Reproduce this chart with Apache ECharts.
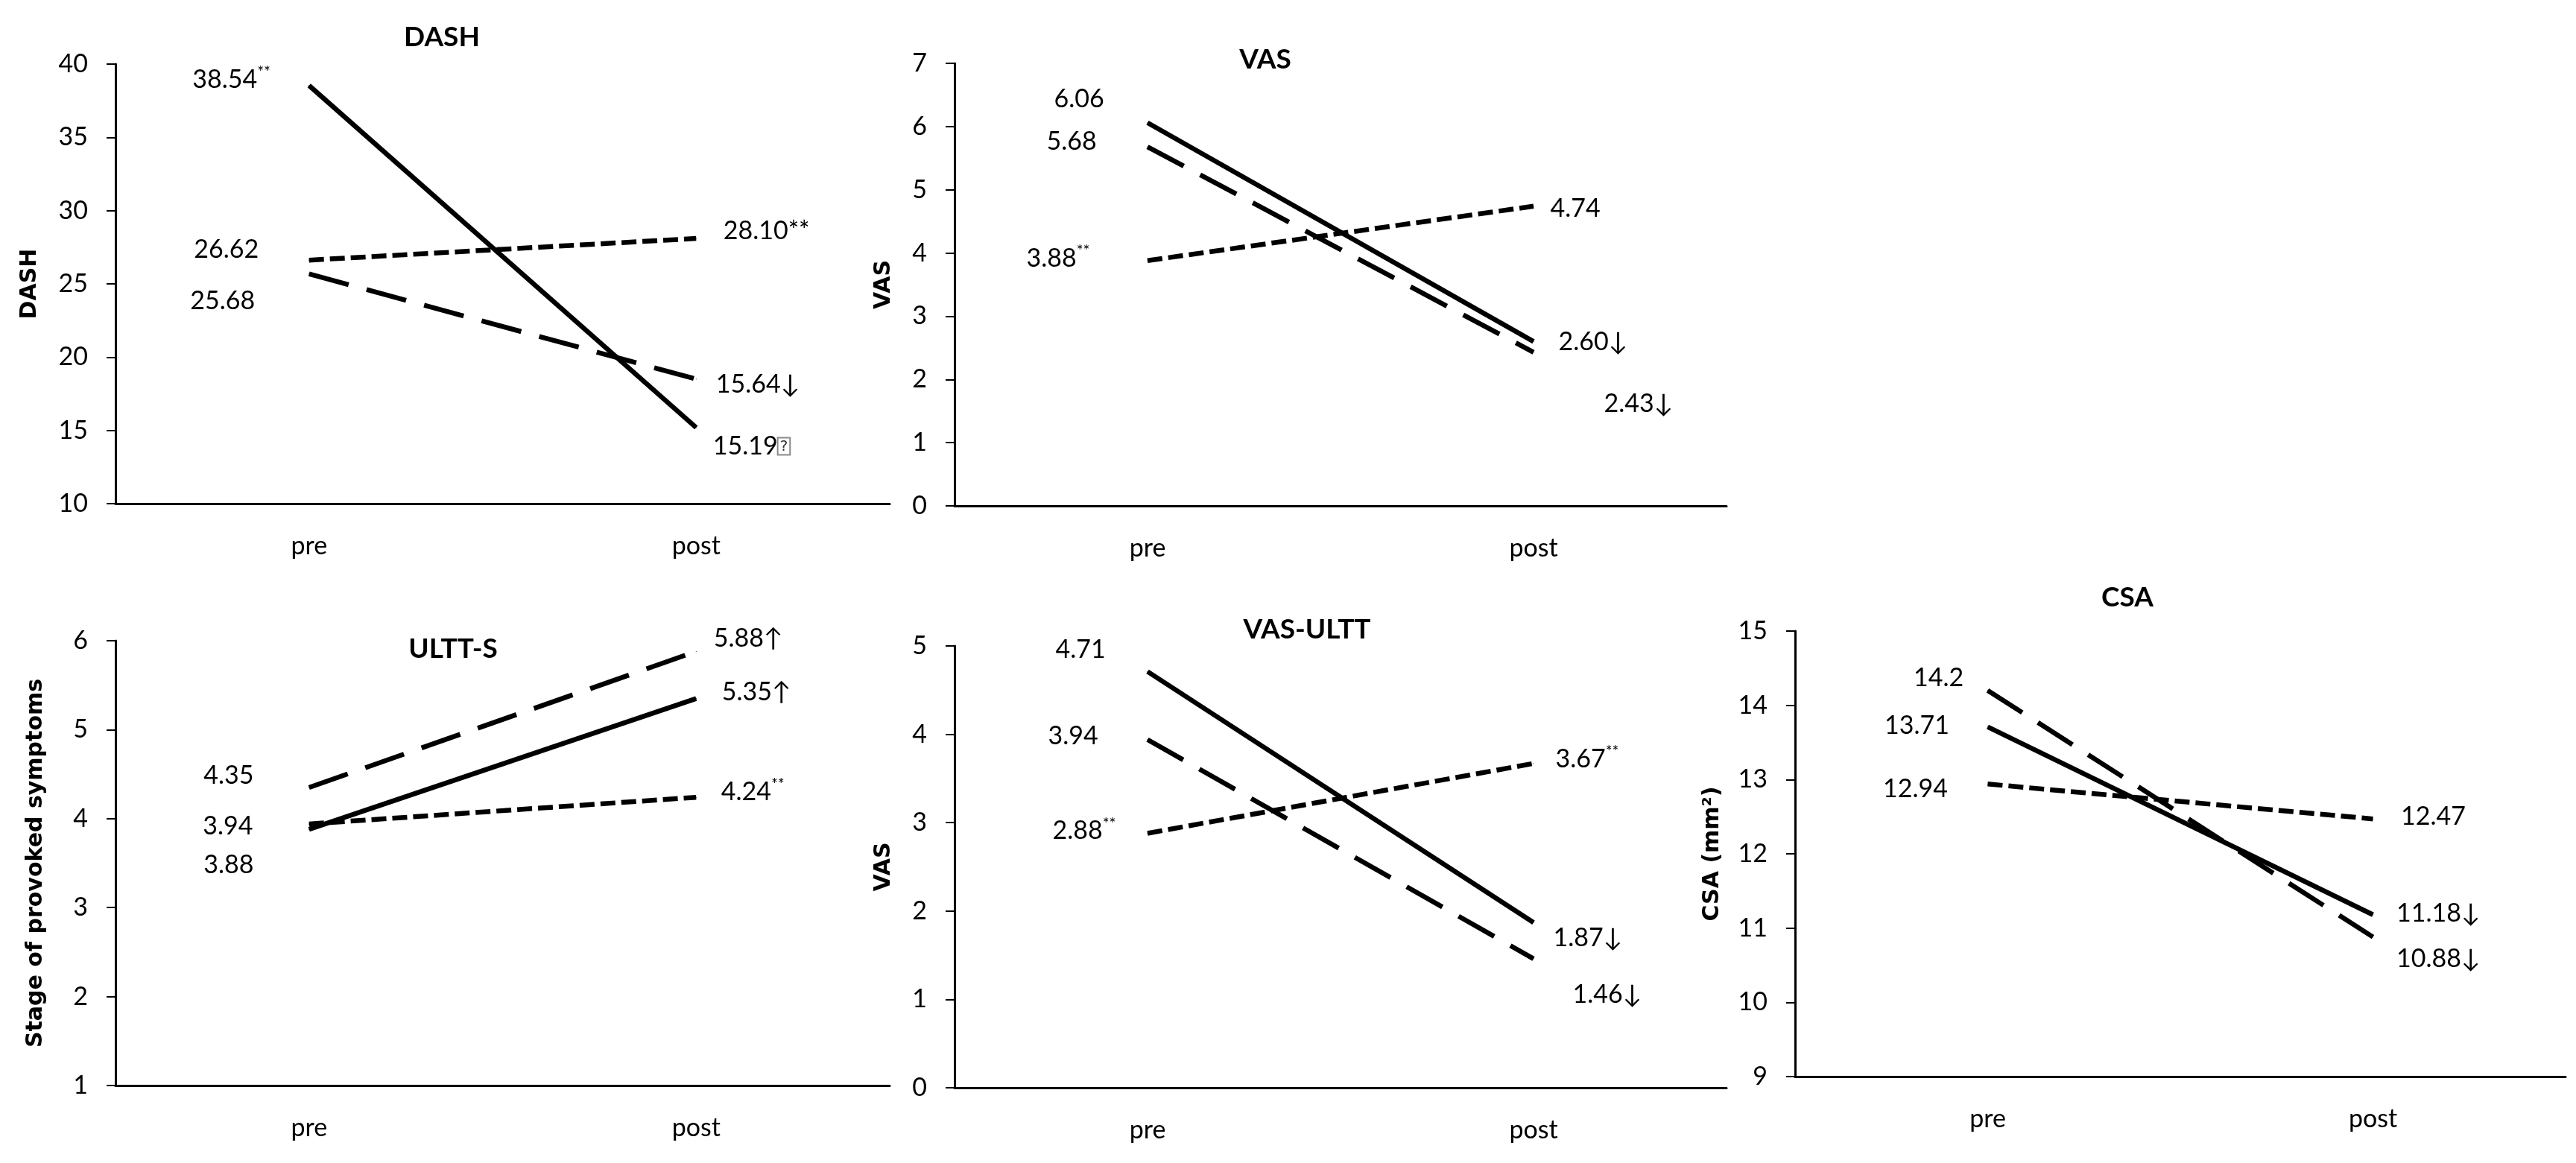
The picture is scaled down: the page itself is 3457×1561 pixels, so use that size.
<!DOCTYPE html>
<html>
<head>
<meta charset="utf-8">
<title>Pre / post outcomes</title>
<script src="https://cdn.jsdelivr.net/npm/echarts@6/dist/echarts.min.js"></script>
<style>
  html, body { margin: 0; padding: 0; background: #fff; }
  #chart { width: 3457px; height: 1561px; }
</style>
</head>
<body>
<div id="chart"></div>
<script>
const categories = ['pre', 'post'];

// DASH
const dashSolid = [38.54, 15.19];
const dashLong = [25.68, 18.5];
const dashShort = [26.62, 28.10];
const dashSolidLabels = ['38.54^**', '15.19[?]'];
const dashLongLabels = ['25.68', '15.64↓'];
const dashShortLabels = ['26.62', '28.10**'];

// VAS
const vasSolid = [6.06, 2.60];
const vasLong = [5.68, 2.43];
const vasShort = [3.88, 4.74];
const vasSolidLabels = ['6.06', '2.60↓'];
const vasLongLabels = ['5.68', '2.43↓'];
const vasShortLabels = ['3.88^**', '4.74'];

// ULTT-S
const ulttSolid = [3.88, 5.35];
const ulttLong = [4.35, 5.88];
const ulttShort = [3.94, 4.24];
const ulttSolidLabels = ['3.88', '5.35↑'];
const ulttLongLabels = ['4.35', '5.88↑'];
const ulttShortLabels = ['3.94', '4.24^**'];

// VAS-ULTT
const vasUlttSolid = [4.71, 1.87];
const vasUlttLong = [3.94, 1.46];
const vasUlttShort = [2.88, 3.67];
const vasUlttSolidLabels = ['4.71', '1.87↓'];
const vasUlttLongLabels = ['3.94', '1.46↓'];
const vasUlttShortLabels = ['2.88^**', '3.67^**'];

// CSA
const csaSolid = [13.71, 11.18];
const csaLong = [14.2, 10.88];
const csaShort = [12.94, 12.47];
const csaSolidLabels = ['13.71', '11.18↓'];
const csaLongLabels = ['14.2', '10.88↓'];
const csaShortLabels = ['12.94', '12.47'];

const NUM_FONT = 'Lato, "Open Sans", sans-serif';
const NAME_FONT = '"DejaVu Sans", Verdana, sans-serif';
const NUM_SIZE = 34;

// 线型：实线 / 长虚线 / 短虚线
const lineTypes = {
  solid: 'solid',
  long: [55, 25],
  short: [20, 8]
};

// 每个小图的布局（位置、刻度、标签偏移）
const panels = [
  {
    title: 'DASH', yName: 'DASH', min: 10, max: 40, step: 5,
    grid: { left: 155, top: 86, width: 1039, height: 590 },
    titleAt: [593, 50], nameGap: 100,
    data: {
      solid: [dashSolid, dashSolidLabels],
      long: [dashLong, dashLongLabels],
      short: [dashShort, dashShortLabels]
    },
    offsets: {
      solid: [[-157, -8], [22, 25]],
      long: [[-160, 36], [26, 7]],
      short: [[-155, -14], [36, -10]]
    }
  },
  {
    title: 'VAS', yName: 'VAS', min: 0, max: 7, step: 1,
    grid: { left: 1281, top: 85, width: 1036, height: 594 },
    titleAt: [1698, 80], nameGap: 80,
    data: {
      solid: [vasSolid, vasSolidLabels],
      long: [vasLong, vasLongLabels],
      short: [vasShort, vasShortLabels]
    },
    offsets: {
      solid: [[-126, -32], [33, 1]],
      long: [[-136, -7], [94, 69]],
      short: [[-163, -3], [22, 3]]
    }
  },
  {
    title: 'ULTT-S', yName: 'Stage of provoked symptoms', min: 1, max: 6, step: 1,
    grid: { left: 155, top: 860, width: 1039, height: 597 },
    titleAt: [608, 871], nameGap: 92,
    data: {
      solid: [ulttSolid, ulttSolidLabels],
      long: [ulttLong, ulttLongLabels],
      short: [ulttShort, ulttShortLabels]
    },
    offsets: {
      solid: [[-142, 48], [34, -9]],
      long: [[-142, -16], [23, -17]],
      short: [[-143, 3], [33, -7]]
    }
  },
  {
    title: 'VAS-ULTT', yName: 'VAS', min: 0, max: 5, step: 1,
    grid: { left: 1281, top: 867, width: 1036, height: 593 },
    titleAt: [1754, 845], nameGap: 80,
    data: {
      solid: [vasUlttSolid, vasUlttSolidLabels],
      long: [vasUlttLong, vasUlttLongLabels],
      short: [vasUlttShort, vasUlttShortLabels]
    },
    offsets: {
      solid: [[-124, -29], [26, 21]],
      long: [[-134, -5], [52, 48]],
      short: [[-128, -3], [29, -6]]
    }
  },
  {
    title: 'CSA', yName: 'CSA (mm²)', min: 9, max: 15, step: 1,
    grid: { left: 2409, top: 847, width: 1034, height: 598 },
    titleAt: [2855, 802], nameGap: 96,
    data: {
      solid: [csaSolid, csaSolidLabels],
      long: [csaLong, csaLongLabels],
      short: [csaShort, csaShortLabels]
    },
    offsets: {
      solid: [[-139, -2], [31, -2]],
      long: [[-100, -17], [31, 29]],
      short: [[-141, 7], [37, -3]]
    }
  }
];

// '^**' 表示上标星号，'[?]' 表示带框问号
function toRich(s) {
  return s.replace('^**', '{s|**}').replace('[?]', '{q|?}');
}

const richStyles = {
  s: { fontSize: 21, fontFamily: NUM_FONT, color: '#000', verticalAlign: 'top', lineHeight: 21 },
  q: {
    fontSize: 20, fontFamily: NAME_FONT, color: '#333',
    borderColor: '#8a8a8a', borderWidth: 2, padding: [2, 3, 1, 3]
  }
};

const option = {
  backgroundColor: '#fff',
  animation: false,
  title: panels.map(p => ({
    text: p.title,
    left: p.titleAt[0],
    top: p.titleAt[1] - 21,
    textAlign: 'center',
    padding: 0,
    textStyle: {
      fontFamily: NUM_FONT,
      fontWeight: 'bold',
      fontSize: 37,
      lineHeight: 42,
      color: '#000'
    }
  })),
  grid: panels.map(p => Object.assign({ containLabel: false }, p.grid)),
  xAxis: panels.map((p, i) => ({
    type: 'category',
    gridIndex: i,
    data: categories,
    boundaryGap: true,
    axisLine: { show: true, lineStyle: { color: '#000', width: 3 } },
    axisTick: { show: false },
    axisLabel: { fontFamily: NUM_FONT, fontSize: NUM_SIZE, color: '#000', margin: 40 },
    splitLine: { show: false }
  })),
  yAxis: panels.map((p, i) => ({
    type: 'value',
    gridIndex: i,
    min: p.min,
    max: p.max,
    interval: p.step,
    name: p.yName,
    nameLocation: 'middle',
    nameRotate: 90,
    nameGap: p.nameGap,
    nameMoveOverlap: false,
    nameTextStyle: { fontFamily: NAME_FONT, fontWeight: 'bold', fontSize: 30, color: '#000' },
    axisLine: { show: true, lineStyle: { color: '#000', width: 3 } },
    axisTick: { show: true, length: 12, lineStyle: { color: '#000', width: 2 } },
    axisLabel: { fontFamily: NUM_FONT, fontSize: NUM_SIZE, color: '#000', margin: 37 },
    splitLine: { show: false }
  })),
  series: []
};

panels.forEach((p, i) => {
  ['short', 'long', 'solid'].forEach(kind => {
    const [values, labels] = p.data[kind];
    const offs = p.offsets[kind];
    option.series.push({
      name: p.title + '-' + kind,
      type: 'line',
      xAxisIndex: i,
      yAxisIndex: i,
      symbol: 'circle',
      symbolSize: 1,
      showSymbol: true,
      itemStyle: { color: '#000' },
      lineStyle: { color: '#000', width: 6.5, type: lineTypes[kind], cap: 'butt' },
      emphasis: { disabled: true },
      data: values.map((v, j) => ({
        value: v,
        label: {
          show: true,
          position: 'right',
          distance: 0,
          offset: offs[j],
          verticalAlign: 'middle',
          fontFamily: NUM_FONT,
          fontSize: NUM_SIZE,
          lineHeight: 40,
          color: '#000',
          formatter: toRich(labels[j]),
          rich: richStyles
        }
      }))
    });
  });
});

const chart = echarts.init(document.getElementById('chart'), null, { renderer: 'canvas' });
chart.setOption(option);
window.addEventListener('resize', () => chart.resize());
</script>
</body>
</html>
